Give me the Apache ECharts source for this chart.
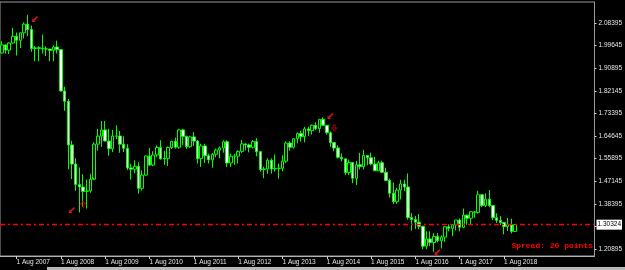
<!DOCTYPE html>
<html>
<head>
<meta charset="utf-8">
<script src="https://cdn.jsdelivr.net/npm/echarts@6/dist/echarts.min.js"></script>
<style>
  html, body { margin: 0; padding: 0; background: #000; }
  #chart { width: 625px; height: 270px; }
</style>
</head>
<body>
<div id="chart"></div>
<script>
// GBPUSD monthly, each row [open, close, low, high]
const ohlc2007 = [ // Apr..Dec
  [1.9680, 1.9993, 1.9661, 2.0133], [1.9993, 1.9790, 1.9654, 2.0010], [1.9790, 2.0065, 1.9640, 2.0090],
  [2.0065, 2.0325, 2.0045, 2.0655], [2.0325, 2.0170, 1.9580, 2.0470], [2.0170, 2.0460, 1.9870, 2.0465],
  [2.0460, 2.0795, 2.0240, 2.0865], [2.0795, 2.0585, 2.0330, 2.1160], [2.0585, 1.9850, 1.9730, 2.0740]
];
const ohlc2008 = [
  [1.9850, 1.9880, 1.9360, 1.9950], [1.9880, 1.9860, 1.9360, 1.9935], [1.9860, 1.9840, 1.9660, 2.0395],
  [1.9840, 1.9830, 1.9560, 1.9940], [1.9830, 1.9780, 1.9360, 1.9835], [1.9780, 1.9910, 1.9360, 1.9975],
  [1.9910, 1.9810, 1.9660, 2.0160], [1.9810, 1.8210, 1.8180, 1.9810], [1.8210, 1.7810, 1.7440, 1.8370],
  [1.7810, 1.6120, 1.5180, 1.7900], [1.6120, 1.5380, 1.4800, 1.6280], [1.5380, 1.4590, 1.4350, 1.5600]
];
const ohlc2009 = [
  [1.4590, 1.4490, 1.3503, 1.5250], [1.4490, 1.4320, 1.3720, 1.4985], [1.4320, 1.4340, 1.3655, 1.4780],
  [1.4340, 1.4790, 1.4270, 1.5000], [1.4790, 1.6150, 1.4845, 1.6225], [1.6150, 1.6460, 1.5900, 1.6745],
  [1.6460, 1.6700, 1.6045, 1.7045], [1.6700, 1.6270, 1.6260, 1.7045], [1.6270, 1.5970, 1.5705, 1.6745],
  [1.5970, 1.6460, 1.5840, 1.6705], [1.6460, 1.6465, 1.6345, 1.6880], [1.6465, 1.6150, 1.5815, 1.6660]
];
const ohlc2010 = [
  [1.6150, 1.5990, 1.5845, 1.6455], [1.5990, 1.5230, 1.5150, 1.6145], [1.5230, 1.5180, 1.4780, 1.5390],
  [1.5180, 1.5290, 1.5025, 1.5525], [1.5290, 1.4440, 1.4230, 1.5450], [1.4440, 1.4950, 1.4350, 1.5135],
  [1.4950, 1.5690, 1.4910, 1.5710], [1.5690, 1.5340, 1.5300, 1.5995], [1.5340, 1.5730, 1.5295, 1.5875],
  [1.5730, 1.6020, 1.5640, 1.6105], [1.6020, 1.5580, 1.5550, 1.6300], [1.5580, 1.5600, 1.5350, 1.5895]
];
const ohlc2011 = [
  [1.5600, 1.6020, 1.5305, 1.6060], [1.6020, 1.6260, 1.5960, 1.6280], [1.6260, 1.6030, 1.5975, 1.6400],
  [1.6030, 1.6700, 1.5970, 1.6745], [1.6700, 1.6450, 1.6105, 1.6745], [1.6450, 1.6050, 1.5955, 1.6475],
  [1.6050, 1.6430, 1.6015, 1.6475], [1.6430, 1.6270, 1.6080, 1.6615], [1.6270, 1.5590, 1.5400, 1.6305],
  [1.5590, 1.6080, 1.5270, 1.6165], [1.6080, 1.5700, 1.5420, 1.6165], [1.5700, 1.5540, 1.5400, 1.5780]
];
const ohlc2012 = [
  [1.5540, 1.5760, 1.5235, 1.5810], [1.5760, 1.5920, 1.5640, 1.5975], [1.5920, 1.6000, 1.5600, 1.6060],
  [1.6000, 1.6240, 1.5820, 1.6300], [1.6240, 1.5420, 1.5270, 1.6300], [1.5420, 1.5680, 1.5270, 1.5775],
  [1.5680, 1.5685, 1.5345, 1.5780], [1.5685, 1.5870, 1.5400, 1.5910], [1.5870, 1.6160, 1.5810, 1.6310],
  [1.6160, 1.6120, 1.5910, 1.6180], [1.6120, 1.6030, 1.5830, 1.6170], [1.6030, 1.6250, 1.5980, 1.6310]
];
const ohlc2013 = [
  [1.6250, 1.5860, 1.5680, 1.6380], [1.5860, 1.5160, 1.5085, 1.5890], [1.5160, 1.5190, 1.4830, 1.5275],
  [1.5190, 1.5530, 1.5000, 1.5600], [1.5530, 1.5190, 1.5010, 1.5600], [1.5190, 1.5210, 1.5090, 1.5750],
  [1.5210, 1.5215, 1.4815, 1.5400], [1.5215, 1.5490, 1.5100, 1.5715], [1.5490, 1.6190, 1.5420, 1.6260],
  [1.6190, 1.6030, 1.5895, 1.6260], [1.6030, 1.6360, 1.5980, 1.6380], [1.6360, 1.6560, 1.6180, 1.6600]
];
const ohlc2014 = [
  [1.6560, 1.6440, 1.6250, 1.6670], [1.6440, 1.6740, 1.6220, 1.6820], [1.6740, 1.6670, 1.6460, 1.6820],
  [1.6670, 1.6880, 1.6520, 1.6905], [1.6880, 1.6750, 1.6695, 1.6995], [1.6750, 1.7110, 1.6595, 1.7115],
  [1.7110, 1.6880, 1.6860, 1.7190], [1.6880, 1.6590, 1.6520, 1.6890], [1.6590, 1.6210, 1.6050, 1.6645],
  [1.6210, 1.6000, 1.5875, 1.6230], [1.6000, 1.5640, 1.5590, 1.6100], [1.5640, 1.5580, 1.5480, 1.5790]
];
const ohlc2015 = [
  [1.5580, 1.5050, 1.4950, 1.5590], [1.5050, 1.5440, 1.4950, 1.5550], [1.5440, 1.4830, 1.4635, 1.5450],
  [1.4830, 1.5350, 1.4565, 1.5500], [1.5350, 1.5280, 1.5170, 1.5815], [1.5280, 1.5710, 1.5170, 1.5930],
  [1.5710, 1.5620, 1.5330, 1.5730], [1.5620, 1.5380, 1.5330, 1.5820], [1.5380, 1.5120, 1.5110, 1.5660],
  [1.5120, 1.5430, 1.5105, 1.5510], [1.5430, 1.5060, 1.5025, 1.5510], [1.5060, 1.4740, 1.4740, 1.5240]
];
const ohlc2016 = [
  [1.4740, 1.4250, 1.4080, 1.4815], [1.4250, 1.3920, 1.3835, 1.4665], [1.3920, 1.4370, 1.3840, 1.4460],
  [1.4370, 1.4610, 1.4010, 1.4770], [1.4610, 1.4490, 1.4330, 1.4770], [1.4490, 1.3310, 1.3230, 1.5015],
  [1.3310, 1.3230, 1.2800, 1.3480], [1.3230, 1.3130, 1.2865, 1.3370], [1.3130, 1.2970, 1.2855, 1.3445],
  [1.2970, 1.2200, 1.2080, 1.2985], [1.2200, 1.2480, 1.2080, 1.2775], [1.2480, 1.2340, 1.2200, 1.2775]
];
const ohlc2017 = [
  [1.2340, 1.2580, 1.1985, 1.2705], [1.2580, 1.2410, 1.2345, 1.2705], [1.2410, 1.2550, 1.2110, 1.2615],
  [1.2550, 1.2950, 1.2365, 1.2965], [1.2950, 1.2890, 1.2770, 1.3045], [1.2890, 1.3030, 1.2585, 1.3030],
  [1.3030, 1.3210, 1.2810, 1.3210], [1.3210, 1.2930, 1.2775, 1.3270], [1.2930, 1.3400, 1.2895, 1.3655],
  [1.3400, 1.3280, 1.3025, 1.3425], [1.3280, 1.3530, 1.3035, 1.3550], [1.3530, 1.3510, 1.3300, 1.3550]
];
const ohlc2018 = [ // Jan..Nov
  [1.3510, 1.4190, 1.3460, 1.4345], [1.4190, 1.3770, 1.3710, 1.4200], [1.3770, 1.4020, 1.3710, 1.4245],
  [1.4020, 1.3770, 1.3710, 1.4375], [1.3770, 1.3300, 1.3205, 1.3800], [1.3300, 1.3200, 1.3100, 1.3475],
  [1.3200, 1.3120, 1.3010, 1.3365], [1.3120, 1.2960, 1.2660, 1.3120], [1.2960, 1.3030, 1.2785, 1.3295],
  [1.3030, 1.2770, 1.2695, 1.3260], [1.2770, 1.30324, 1.2760, 1.3030]
];

const currentPrice = 1.30324;
const priceTicks = [1.20895, 1.29645, 1.38395, 1.47145, 1.55895, 1.64645, 1.73395, 1.82145, 1.90895, 1.99645, 2.08395];

// red trade arrows: [month, price]
const arrowsSW = [['Jan 2008', 2.0994], ['Nov 2008', 1.3600], ['Sep 2014', 1.7239], ['Feb 2017', 1.1974]];
const arrowsUp = [['Feb 2009', 1.3832]];
const arrowsDown = [['Oct 2014', 1.6775]];

const monthNames = ['Jan', 'Feb', 'Mar', 'Apr', 'May', 'Jun', 'Jul', 'Aug', 'Sep', 'Oct', 'Nov', 'Dec'];
const slotCount = 161; // Apr 2007 .. plus empty shift space on the right
const categories = [];
for (let i = 0; i < slotCount; i++) {
  const m = 3 + i;
  categories.push(monthNames[m % 12] + ' ' + (2007 + Math.floor(m / 12)));
}

const candles = [].concat(ohlc2007, ohlc2008, ohlc2009, ohlc2010, ohlc2011, ohlc2012,
  ohlc2013, ohlc2014, ohlc2015, ohlc2016, ohlc2017, ohlc2018);

// only label August of the years that have bars
const isAug = (idx, val) => idx < candles.length && val.indexOf('Aug') === 0;
const axisFont = { fontFamily: 'Liberation Sans', fontSize: 6.5, color: '#e6e6e6' };

const chart = echarts.init(document.getElementById('chart'), null, { renderer: 'canvas' });

chart.setOption({
  backgroundColor: '#000000',
  animation: false,
  grid: {
    left: -1, right: 29, top: 2, bottom: 14,
    show: true, borderColor: '#9a9a9a', borderWidth: 1, backgroundColor: 'transparent'
  },
  xAxis: {
    type: 'category',
    data: categories,
    boundaryGap: true,
    axisLine: { lineStyle: { color: '#b4b4b4', width: 1 } },
    axisTick: { show: true, interval: isAug, alignWithLabel: true, length: 3, lineStyle: { color: '#d0d0d0' } },
    axisLabel: {
      ...axisFont, interval: isAug, align: 'left', margin: 3,
      formatter: v => '1 ' + v
    },
    splitLine: { show: false }
  },
  yAxis: {
    type: 'value',
    position: 'right',
    min: 1.1819,
    max: 2.1653,
    axisLine: { show: true, lineStyle: { color: '#9a9a9a' } },
    axisTick: { show: true, length: 2, customValues: priceTicks, lineStyle: { color: '#d0d0d0' } },
    axisLabel: { ...axisFont, margin: 4, customValues: priceTicks, formatter: v => v.toFixed(5) },
    splitLine: { show: false }
  },
  series: [
    {
      type: 'candlestick',
      data: candles,
      barWidth: 3,
      itemStyle: {
        color: '#000000', color0: '#ffffff',
        borderColor: '#00ff00', borderColor0: '#00ff00', borderWidth: 1
      },
      markLine: {
        silent: true,
        symbol: 'none',
        precision: 5,
        lineStyle: { color: '#ff0000', width: 1.4, opacity: 1, type: [5, 3, 2, 3] },
        emphasis: { disabled: true },
        label: {
          position: 'end', distance: 2, formatter: () => currentPrice.toFixed(5),
          backgroundColor: '#ffffff', color: '#000000', padding: [2, 1, 1, 1],
          fontFamily: 'Liberation Sans', fontSize: 6.5
        },
        data: [{ yAxis: currentPrice, lineStyle: { color: '#ff0000' } }]
      }
    },
    {
      type: 'scatter',
      data: arrowsSW,
      symbol: 'path://M0,10 L0,4 L2,6 L8,0 L10,2 L4,8 L6,10 Z',
      symbolSize: 6,
      itemStyle: { color: '#ff1a1a' },
      silent: true
    },
    {
      type: 'scatter',
      data: arrowsUp,
      symbol: 'path://M5,0 L10,5 L7,5 L7,10 L3,10 L3,5 L0,5 Z',
      symbolSize: [5, 6],
      itemStyle: { color: 'transparent', borderColor: '#d00000', borderWidth: 1 },
      silent: true
    },
    {
      type: 'scatter',
      data: arrowsDown,
      symbol: 'path://M5,0 L10,5 L7,5 L7,10 L3,10 L3,5 L0,5 Z',
      symbolRotate: 180,
      symbolSize: [5, 6],
      itemStyle: { color: 'transparent', borderColor: '#d00000', borderWidth: 1 },
      silent: true
    }
  ],
  graphic: [
    {
      type: 'text', x: 593, y: 246, z: 100,
      style: {
        text: 'Spread: 20 points', fill: '#ff0000', align: 'right', verticalAlign: 'middle',
        font: 'bold 8px "Liberation Mono"'
      }
    },
    {
      type: 'rect', shape: { x: 47, y: 267, width: 578, height: 3 },
      style: { fill: '#b8b8b8' }
    }
  ]
});
</script>
</body>
</html>
